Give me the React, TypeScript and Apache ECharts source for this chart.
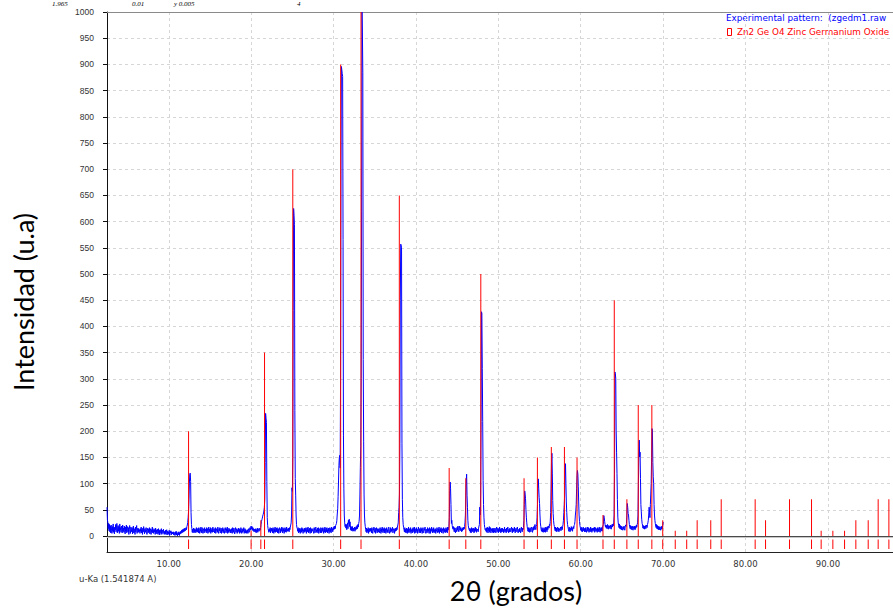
import React, { useEffect, useRef } from "react";
import * as echarts from "echarts";

// Measured XRD scan: counts on a regular 2θ grid (start 2.50°, step 0.05°)
const scanStart = 2.5;
const scanStep = 0.05;
const counts = [
  // 2.50 – 3.45
  55, 31, 26, 14, 24, 10, 22, 8, 19, 6, 21, 11, 5, 18, 9, 23, 7, 16, 4, 17,
  // 3.50 – 4.45
  12, 22, 8, 17, 24, 6, 15, 20, 9, 18, 5, 23, 11, 16, 7, 19, 13, 6, 21, 10,
  // 4.50 – 5.45
  15, 7, 19, 11, 4, 17, 9, 21, 6, 14, 18, 8, 16, 3, 12, 20, 9, 5, 17, 13,
  // 5.50 – 6.45
  8, 16, 4, 12, 19, 6, 14, 10, 3, 17, 8, 13, 20, 5, 11, 15, 7, 14, 9, 12,
  // 6.50 – 7.45
  5, 14, 9, 17, 6, 12, 3, 15, 8, 18, 10, 4, 14, 7, 12, 16, 8, 3, 11, 15,
  // 7.50 – 8.45
  6, 13, 8, 16, 4, 11, 14, 3, 12, 8, 17, 6, 11, 5, 14, 8, 12, 3, 15, 7,
  // 8.50 – 9.45
  11, 4, 13, 8, 3, 14, 6, 11, 2, 12, 8, 5, 14, 3, 9, 11, 5, 13, 7, 3,
  // 9.50 – 10.45
  9, 4, 11, 3, 8, 12, 2, 9, 5, 8, 3, 11, 1, 8, 6, 10, 2, 8, 4, 7,
  // 10.50 – 11.45
  4, 8, 2, 7, 5, 1, 8, 3, 9, 2, 6, 0, 5, 8, 2, 6, 1, 8, 4, 9,
  // 11.50 – 12.45
  5, 11, 6, 12, 7, 13, 8, 14, 9, 15, 10, 13, 16, 12, 18, 21, 26, 35, 48, 70,
  // 12.50 – 13.45
  101, 118, 120, 104, 45, 22, 14, 7, 13, 6, 15, 9, 7, 14, 6, 12, 9, 16, 7, 13,
  // 13.50 – 14.45
  8, 15, 6, 16, 10, 5, 14, 9, 17, 6, 12, 16, 8, 5, 14, 11, 6, 16, 9, 13,
  // 14.50 – 15.45
  12, 6, 16, 9, 14, 5, 11, 17, 7, 13, 9, 16, 5, 12, 8, 15, 7, 17, 10, 8,
  // 15.50 – 16.45
  14, 6, 11, 16, 5, 9, 14, 11, 7, 17, 9, 5, 14, 10, 16, 6, 9, 15, 5, 12,
  // 16.50 – 17.45
  9, 16, 6, 12, 14, 5, 10, 16, 11, 6, 14, 9, 17, 5, 12, 7, 15, 9, 13, 6,
  // 17.50 – 18.45
  12, 6, 14, 9, 5, 16, 11, 7, 15, 9, 4, 12, 16, 7, 10, 14, 5, 12, 7, 15,
  // 18.50 – 19.45
  9, 14, 5, 12, 7, 16, 10, 5, 14, 7, 12, 9, 16, 5, 10, 14, 6, 12, 5, 10,
  // 19.50 – 20.45
  7, 12, 5, 10, 14, 7, 10, 16, 11, 17, 19, 13, 18, 11, 16, 10, 14, 8, 13, 10,
  // 20.50 – 21.45
  8, 14, 6, 12, 9, 15, 7, 12, 14, 9, 12, 15, 11, 16, 22, 28, 31, 34, 38, 41,
  // 21.50 – 22.45
  44, 48, 55, 70, 140, 234, 225, 217, 104, 35, 20, 14, 15, 7, 13, 9, 16, 6, 12, 15,
  // 22.50 – 23.45
  9, 14, 6, 16, 11, 5, 14, 8, 17, 7, 12, 15, 8, 16, 6, 12, 14, 5, 10, 16,
  // 23.50 – 24.45
  12, 6, 14, 9, 17, 11, 6, 16, 9, 14, 5, 12, 16, 8, 14, 7, 17, 11, 9, 14,
  // 24.50 – 25.45
  10, 15, 8, 16, 12, 17, 18, 25, 40, 92, 85, 150, 430, 625, 612, 595, 240, 110, 78, 40,
  // 25.50 – 26.45
  22, 16, 14, 9, 16, 6, 13, 8, 15, 5, 12, 14, 7, 16, 9, 14, 5, 12, 9, 15,
  // 26.50 – 27.45
  7, 14, 9, 16, 5, 12, 15, 8, 17, 6, 12, 9, 15, 5, 16, 11, 6, 14, 9, 12,
  // 27.50 – 28.45
  14, 8, 5, 16, 11, 6, 14, 17, 8, 12, 6, 15, 9, 16, 5, 12, 14, 8, 6, 16,
  // 28.50 – 29.45
  12, 6, 15, 9, 16, 11, 5, 14, 8, 17, 6, 12, 15, 8, 16, 6, 12, 9, 15, 5,
  // 29.50 – 30.45
  12, 16, 8, 14, 6, 17, 11, 14, 8, 16, 12, 18, 13, 19, 14, 20, 21, 24, 30, 42,
  // 30.50 – 31.45
  52, 75, 105, 135, 150, 154, 130, 300, 700, 896, 890, 882, 877, 566, 191, 90, 40, 25, 18, 22,
  // 31.50 – 32.45
  15, 22, 12, 20, 25, 14, 30, 24, 32, 18, 27, 12, 19, 10, 17, 11, 18, 9, 15, 10,
  // 32.50 – 33.45
  13, 17, 9, 16, 12, 18, 13, 20, 14, 22, 17, 24, 28, 40, 80, 131, 170, 300, 620, 1000,
  // 33.50 – 34.45
  960, 884, 337, 181, 80, 40, 25, 18, 12, 8, 15, 6, 13, 9, 16, 5, 12, 14, 8, 15,
  // 34.50 – 35.45
  10, 14, 6, 16, 9, 5, 14, 11, 17, 7, 10, 15, 5, 12, 16, 9, 6, 14, 11, 8,
  // 35.50 – 36.45
  14, 6, 11, 16, 9, 5, 14, 8, 17, 11, 6, 14, 9, 16, 6, 12, 14, 5, 10, 16,
  // 36.50 – 37.45
  8, 12, 6, 14, 17, 9, 5, 12, 16, 7, 14, 9, 11, 17, 6, 10, 14, 12, 5, 14,
  // 37.50 – 38.45
  9, 15, 10, 16, 12, 17, 18, 25, 45, 55, 80, 177, 450, 557, 555, 550, 177, 70, 35, 22,
  // 38.50 – 39.45
  16, 12, 8, 16, 7, 13, 6, 15, 10, 5, 14, 8, 17, 6, 12, 14, 8, 16, 5, 12,
  // 39.50 – 40.45
  9, 14, 6, 16, 11, 8, 17, 5, 14, 10, 6, 16, 9, 13, 5, 12, 17, 9, 6, 14,
  // 40.50 – 41.45
  12, 6, 16, 9, 14, 5, 11, 16, 8, 6, 14, 11, 17, 9, 5, 13, 11, 6, 16, 9,
  // 41.50 – 42.45
  14, 8, 5, 16, 11, 5, 14, 9, 17, 11, 6, 14, 8, 16, 6, 12, 9, 14, 5, 12,
  // 42.50 – 43.45
  9, 16, 11, 6, 14, 8, 17, 5, 12, 14, 8, 16, 6, 12, 14, 9, 5, 16, 11, 8,
  // 43.50 – 44.45
  14, 6, 12, 16, 8, 14, 6, 17, 11, 15, 18, 35, 87, 103, 90, 60, 24, 30, 20, 15,
  // 44.50 – 45.45
  13, 18, 11, 8, 16, 10, 6, 15, 12, 8, 17, 11, 19, 12, 8, 15, 19, 11, 16, 10,
  // 45.50 – 46.45
  13, 8, 16, 10, 15, 12, 17, 13, 18, 25, 40, 78, 105, 118, 78, 55, 30, 20, 15, 12,
  // 46.50 – 47.45
  10, 15, 7, 13, 6, 16, 10, 14, 8, 15, 11, 6, 14, 8, 17, 10, 15, 7, 13, 11,
  // 47.50 – 48.45
  13, 8, 15, 16, 22, 55, 40, 80, 218, 428, 425, 320, 218, 106, 60, 36, 22, 16, 12, 14,
  // 48.50 – 49.45
  9, 15, 7, 17, 12, 6, 15, 10, 18, 7, 13, 16, 6, 13, 10, 15, 7, 13, 6, 15,
  // 49.50 – 50.45
  12, 7, 15, 10, 6, 13, 17, 8, 11, 15, 6, 13, 8, 17, 10, 13, 6, 15, 8, 11,
  // 50.50 – 51.45
  15, 8, 13, 6, 11, 17, 8, 13, 10, 6, 15, 8, 13, 17, 10, 6, 13, 8, 15, 11,
  // 51.50 – 52.45
  8, 13, 17, 10, 6, 15, 8, 13, 10, 17, 8, 6, 13, 15, 10, 8, 17, 12, 6, 11,
  // 52.50 – 53.45
  13, 8, 15, 10, 6, 13, 17, 10, 8, 15, 12, 16, 30, 60, 86, 80, 71, 50, 36, 25,
  // 53.50 – 54.45
  18, 12, 9, 16, 8, 14, 7, 16, 11, 8, 15, 17, 10, 7, 16, 11, 18, 12, 19, 22,
  // 54.50 – 55.45
  16, 12, 18, 22, 35, 60, 100, 109, 90, 74, 62, 40, 25, 18, 12, 9, 16, 8, 14, 7,
  // 55.50 – 56.45
  13, 16, 8, 14, 7, 17, 11, 16, 8, 18, 12, 16, 19, 15, 22, 20, 28, 45, 90, 140,
  // 56.50 – 57.45
  158, 120, 68, 43, 30, 22, 18, 13, 10, 17, 9, 15, 8, 14, 17, 10, 15, 8, 14, 11,
  // 57.50 – 58.45
  14, 17, 10, 15, 18, 12, 18, 22, 30, 45, 60, 80, 125, 138, 100, 65, 45, 30, 22, 17,
  // 58.50 – 59.45
  13, 9, 17, 11, 8, 15, 10, 18, 12, 16, 9, 15, 18, 14, 20, 22, 28, 40, 48, 60,
  // 59.50 – 60.45
  90, 115, 125, 118, 95, 65, 40, 28, 20, 16, 11, 17, 9, 15, 8, 14, 17, 10, 15, 8,
  // 60.50 – 61.45
  14, 8, 16, 11, 7, 14, 17, 9, 12, 16, 7, 14, 11, 8, 17, 10, 14, 7, 15, 11,
  // 61.50 – 62.45
  9, 15, 11, 17, 7, 12, 16, 9, 14, 11, 7, 16, 10, 14, 8, 17, 11, 7, 14, 16,
  // 62.50 – 63.45
  10, 16, 9, 17, 18, 22, 39, 35, 28, 22, 17, 21, 15, 20, 14, 22, 17, 13, 20, 16,
  // 63.50 – 64.45
  19, 14, 21, 16, 13, 20, 22, 17, 23, 19, 25, 40, 120, 313, 310, 300, 202, 160, 119, 70,
  // 64.50 – 65.45
  36, 25, 20, 16, 23, 14, 20, 13, 19, 12, 18, 14, 11, 17, 13, 19, 14, 11, 18, 21,
  // 65.50 – 66.45
  18, 24, 40, 62, 55, 43, 40, 30, 22, 17, 14, 20, 13, 18, 12, 19, 14, 11, 18, 15,
  // 66.50 – 67.45
  13, 19, 12, 18, 15, 21, 17, 22, 25, 40, 100, 160, 183, 151, 160, 110, 60, 46, 32, 24,
  // 67.50 – 68.45
  21, 15, 20, 14, 19, 13, 18, 20, 14, 19, 21, 16, 22, 25, 30, 40, 55, 45, 35, 60,
  // 68.50 – 69.45
  80, 100, 150, 205, 200, 140, 113, 100, 60, 40, 30, 24, 19, 16, 22, 14, 20, 13, 19, 12,
  // 69.50 – 70.00
  17, 12, 18, 14, 11, 17, 13, 19, 14, 20, 27,
];

// Reference pattern: Zn2 Ge O4 Zinc Germanium Oxide (stick positions and relative intensities)
const refTwoTheta = [
  12.4, 19.99, 21.17, 21.62, 25.05, 30.86, 33.33, 37.98, 44.03, 46.05, 47.87,
  53.12, 54.74, 56.43, 58.02, 59.55, 62.7, 64.07, 65.6, 66.98, 68.63, 69.95,
  71.47, 72.86, 74.13, 75.78, 77.05, 81.17, 82.43, 85.34, 88.01, 89.18, 90.6,
  92.02, 93.39, 94.89, 96.1, 97.4,
];
const refIntensity = [
  200, 10, 30, 350, 700, 900, 1000, 650, 130, 110, 500,
  110, 150, 170, 170, 150, 40, 450, 70, 250, 250, 30,
  10, 10, 30, 30, 70, 70, 30, 70, 70, 10, 10,
  10, 30, 30, 70, 70,
];

// Axis ranges and tick values
const xMin = 2.5;
const xMax = 97.9;
const xTickValues = [10, 20, 30, 40, 50, 60, 70, 80, 90];
const yMin = 0;
const yMax = 1000;
const yStep = 50;

const LABEL_FONT = "DejaVu Sans";
const TITLE_FONT = "Lato";
const STICK_RED = "#ff0000";

export default function App() {
  const ref = useRef<HTMLDivElement>(null);

  useEffect(() => {
    if (!ref.current) return;
    const chart = echarts.init(ref.current, undefined, { renderer: "svg" });

    const scan = counts.map((c, i) => [
      Number((scanStart + i * scanStep).toFixed(2)),
      c,
    ]);
    const sticks = refTwoTheta.map((t, i) => [t, refIntensity[i]]);
    const markers = refTwoTheta.map((t) => [t, 0.2, 0.84]);

    const gridDash = { color: "#d6d6d6", type: [3, 3] as number[], width: 1 };

    // thin vertical bar between two data values at one 2θ position
    const stickItem = (x: number, lo: number, hi: number, api: any) => {
      const a = api.coord([x, lo]);
      const b = api.coord([x, hi]);
      return {
        type: "rect",
        shape: { x: a[0] - 0.5, y: b[1], width: 1, height: a[1] - b[1] },
        style: { fill: STICK_RED, stroke: null },
      };
    };

    const option: any = {
      animation: false,
      backgroundColor: "#ffffff",
      textStyle: { fontFamily: LABEL_FONT },
      grid: [
        { left: 107, top: 12, right: 0, height: 524 },
        { left: 107, top: 537, right: 0, height: 15 },
      ],
      xAxis: [
        {
          gridIndex: 0,
          type: "value",
          min: xMin,
          max: xMax,
          position: "bottom",
          axisLine: { show: true, onZero: false, lineStyle: { color: "#4a4a4a", width: 1 } },
          axisTick: { show: false, customValues: xTickValues },
          axisLabel: { show: false, customValues: xTickValues },
          splitLine: { show: true, lineStyle: gridDash },
        },
        {
          gridIndex: 0,
          type: "value",
          min: xMin,
          max: xMax,
          position: "top",
          axisLine: { show: true, onZero: false, lineStyle: { color: "#8a8a8a", width: 1 } },
          axisTick: { show: false },
          axisLabel: { show: false },
          splitLine: { show: false },
        },
        {
          gridIndex: 1,
          type: "value",
          min: xMin,
          max: xMax,
          position: "bottom",
          axisLine: { show: true, onZero: false, lineStyle: { color: "#222222", width: 1 } },
          axisTick: { show: false, customValues: xTickValues },
          axisLabel: {
            show: true,
            customValues: xTickValues,
            formatter: (v: number) => v.toFixed(2),
            fontSize: 8.5,
            fontFamily: LABEL_FONT,
            color: "#333333",
            margin: 7,
          },
          splitLine: { show: true, lineStyle: gridDash },
        },
        {
          gridIndex: 1,
          type: "value",
          min: xMin,
          max: xMax,
          position: "top",
          axisLine: { show: true, onZero: false, lineStyle: { color: "#c8c8c8", width: 1 } },
          axisTick: { show: false },
          axisLabel: { show: false },
          splitLine: { show: false },
        },
      ],
      yAxis: [
        {
          gridIndex: 0,
          type: "value",
          min: yMin,
          max: yMax,
          interval: yStep,
          axisLine: { show: true, onZero: false, lineStyle: { color: "#111111", width: 1 } },
          axisTick: { show: true, length: 4, lineStyle: { color: "#111111" } },
          axisLabel: {
            formatter: (v: number) => String(v),
            fontSize: 8.5,
            fontFamily: "Liberation Sans",
            color: "#333333",
            margin: 13,
          },
          splitLine: { show: true, lineStyle: gridDash },
        },
        {
          gridIndex: 1,
          type: "value",
          min: 0,
          max: 1,
          axisLine: { show: true, onZero: false, lineStyle: { color: "#111111", width: 1 } },
          axisTick: { show: false },
          axisLabel: { show: false },
          splitLine: { show: false },
        },
      ],
      series: [
        {
          name: "Experimental pattern",
          type: "line",
          xAxisIndex: 0,
          yAxisIndex: 0,
          data: scan,
          showSymbol: false,
          symbol: "none",
          clip: true,
          itemStyle: { color: "#0000ff" },
          lineStyle: { color: "#0000ff", width: 1 },
          z: 2,
        },
        {
          name: "Zn2 Ge O4",
          type: "custom",
          xAxisIndex: 0,
          yAxisIndex: 0,
          data: sticks,
          encode: { x: 0, y: 1 },
          clip: true,
          itemStyle: { color: STICK_RED },
          z: 3,
          renderItem: (_p: any, api: any) =>
            stickItem(api.value(0), 0, api.value(1), api),
        },
        {
          name: "Zn2 Ge O4 markers",
          type: "custom",
          xAxisIndex: 2,
          yAxisIndex: 1,
          data: markers,
          encode: { x: 0, y: 1 },
          itemStyle: { color: STICK_RED },
          z: 3,
          renderItem: (_p: any, api: any) =>
            stickItem(api.value(0), api.value(1), api.value(2), api),
        },
      ],
      graphic: [
        {
          type: "text",
          x: 23,
          y: 302,
          rotation: Math.PI / 2,
          style: {
            text: "Intensidad (u.a)",
            font: `27px ${TITLE_FONT}`,
            fill: "#000000",
            align: "center",
            verticalAlign: "middle",
          },
        },
        {
          type: "text",
          x: 516,
          y: 590,
          style: {
            text: "2θ (grados)",
            font: `27px ${TITLE_FONT}`,
            fill: "#000000",
            align: "center",
            verticalAlign: "middle",
          },
        },
        {
          type: "text",
          x: 79,
          y: 579,
          style: {
            text: "u-Ka (1.541874 A)",
            font: `8.5px "${LABEL_FONT}"`,
            fill: "#333333",
            align: "left",
            verticalAlign: "middle",
          },
        },
        {
          type: "text",
          x: 726,
          y: 18,
          style: {
            text: "Experimental pattern:  (zgedm1.raw",
            font: `8.8px "${LABEL_FONT}"`,
            fill: "#0000ff",
            align: "left",
            verticalAlign: "middle",
          },
        },
        {
          type: "rect",
          shape: { x: 727.5, y: 28.5, width: 4, height: 7 },
          style: { fill: "none", stroke: "#ff0000", lineWidth: 1 },
        },
        {
          type: "text",
          x: 737,
          y: 32,
          style: {
            text: "Zn2 Ge O4 Zinc Germanium Oxide",
            font: `8.8px "${LABEL_FONT}"`,
            fill: "#ff0000",
            align: "left",
            verticalAlign: "middle",
          },
        },
        // Formula line of the surrounding document, above the plot
        {
          type: "group",
          children: [
            { type: "text", x: 52, y: 0, style: { text: "1.965", font: 'italic 7px "Liberation Serif"', fill: "#000", align: "left", verticalAlign: "top" } },
            { type: "text", x: 132, y: 0, style: { text: "0.01", font: 'italic 7px "Liberation Serif"', fill: "#000", align: "left", verticalAlign: "top" } },
            { type: "text", x: 174, y: 0, style: { text: "y 0.005", font: 'italic 7px "Liberation Serif"', fill: "#000", align: "left", verticalAlign: "top" } },
            { type: "text", x: 297, y: 0, style: { text: "4", font: 'italic 7px "Liberation Serif"', fill: "#000", align: "left", verticalAlign: "top" } },
          ],
        },
      ],
    };

    chart.setOption(option);
    return () => chart.dispose();
  }, []);

  return (
    <div
      ref={ref}
      style={{ position: "absolute", left: 0, top: 0, width: 893, height: 608 }}
    />
  );
}
